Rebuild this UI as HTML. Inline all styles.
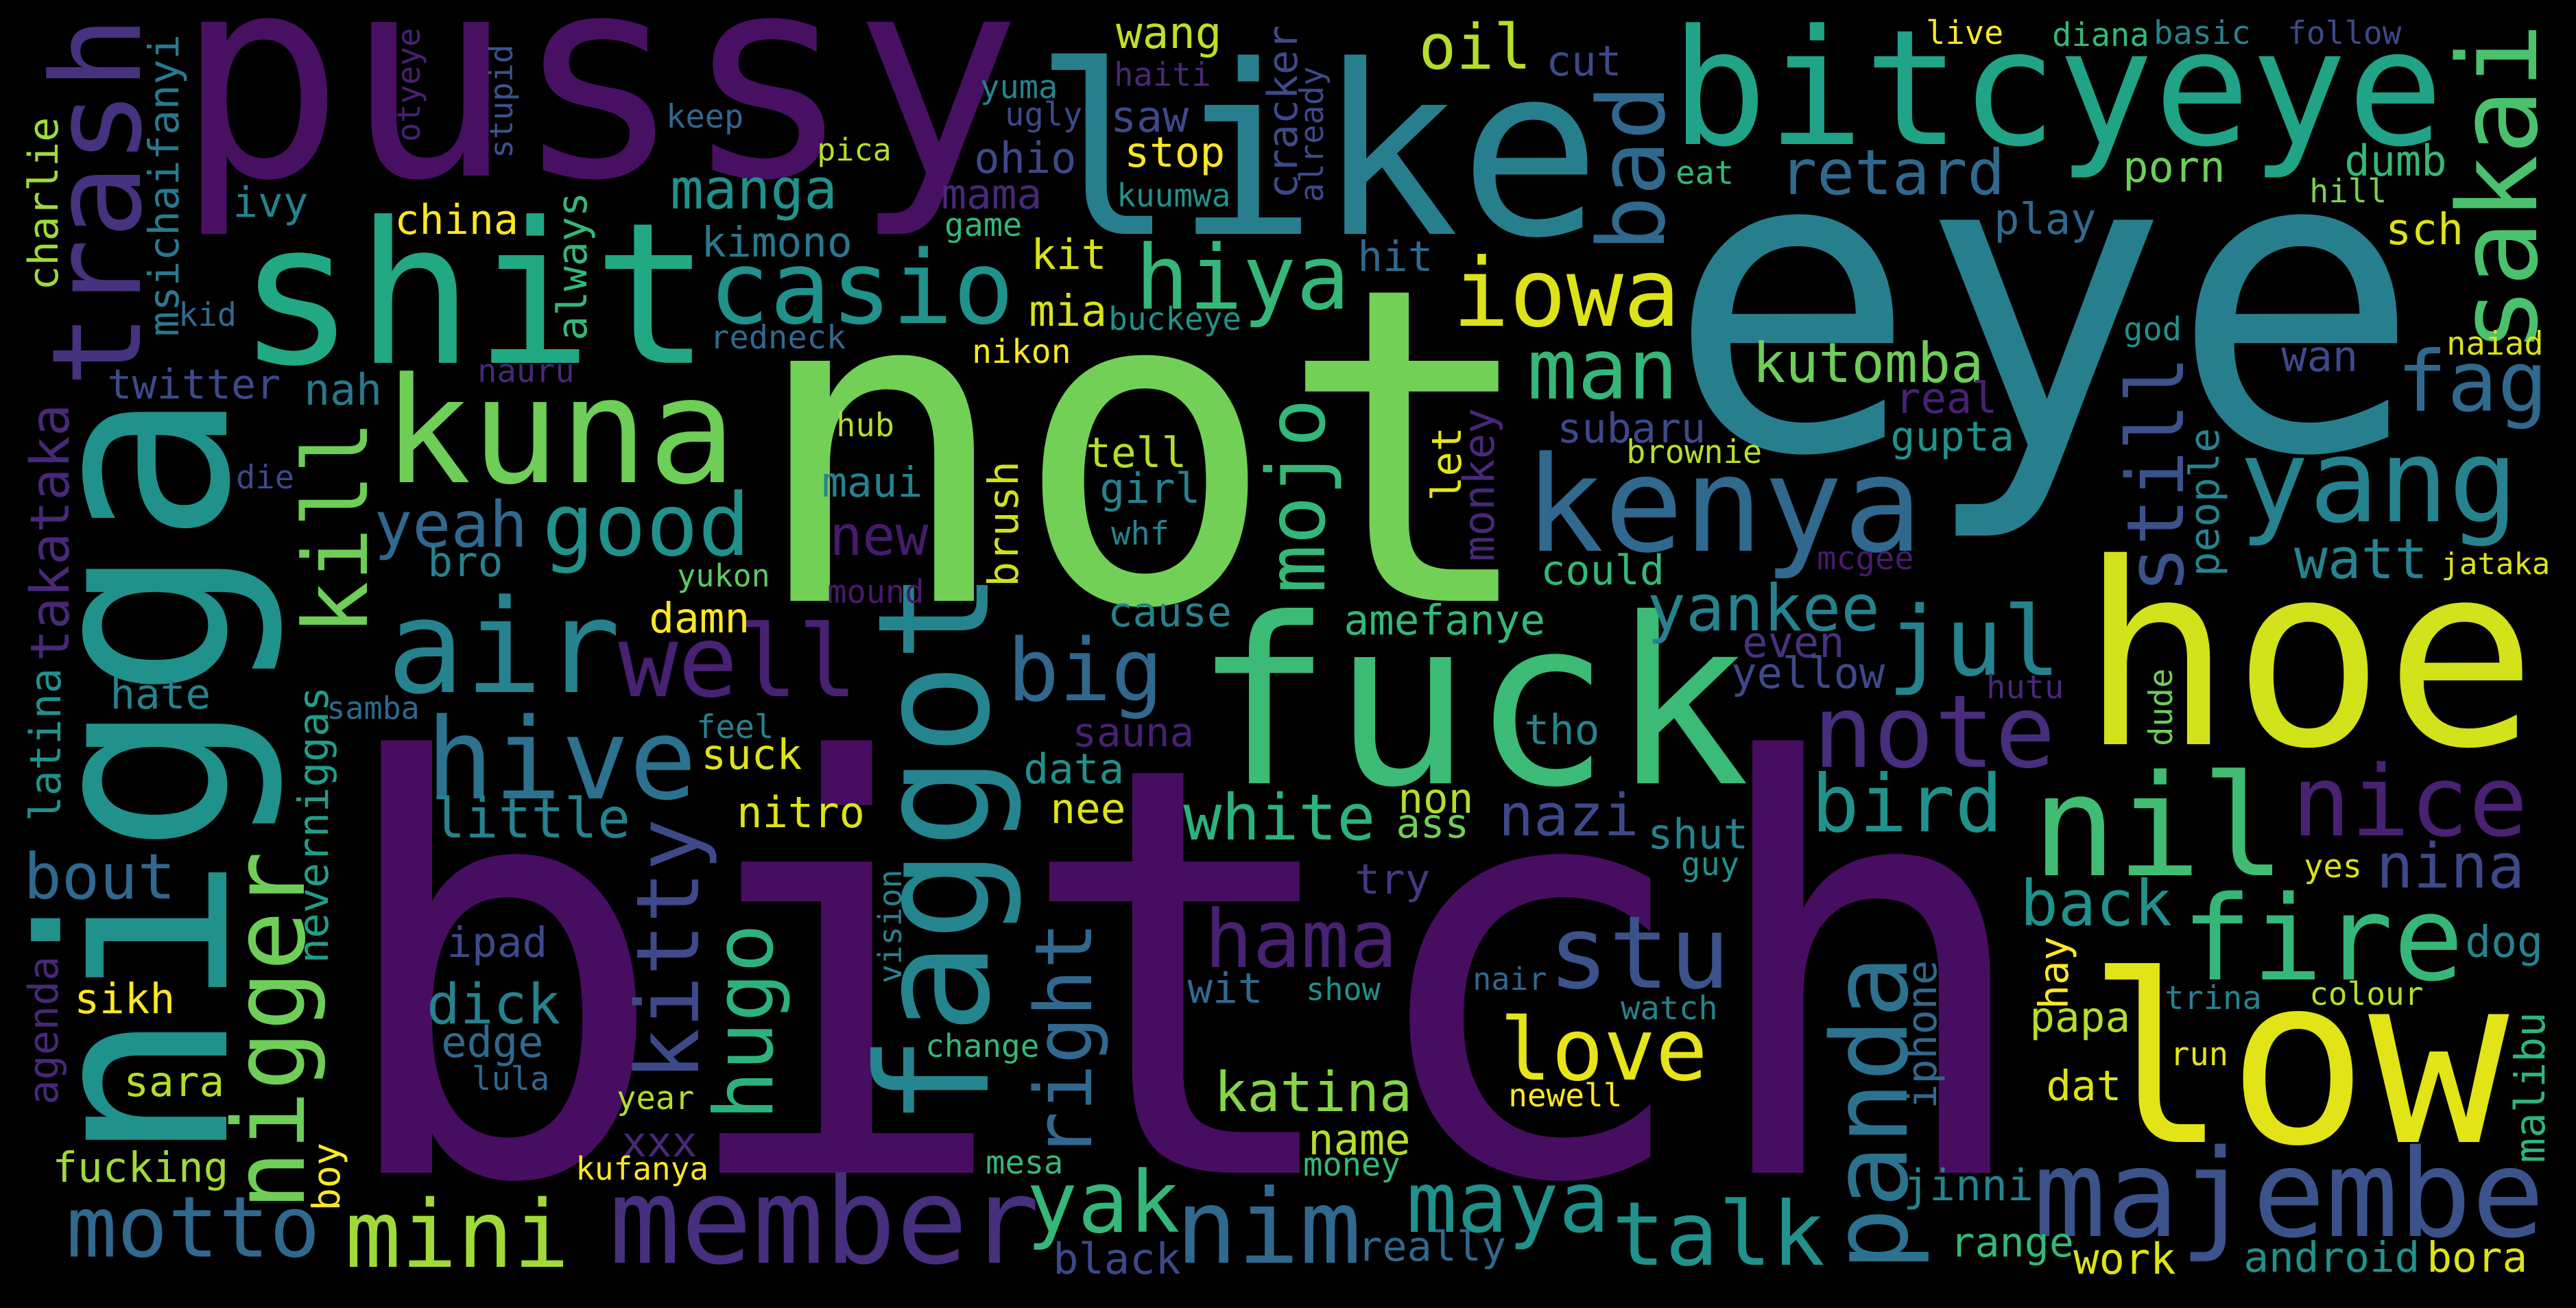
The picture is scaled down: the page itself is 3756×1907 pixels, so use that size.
<!DOCTYPE html>
<html><head><meta charset="utf-8"><title>Word cloud</title>
<style>
html,body{margin:0;padding:0;background:#000;}
#cloud{display:block;width:3756px;height:1907px;background:#000;}
#cloud text{font-family:"DejaVu Sans Mono","Liberation Mono",monospace;}
</style></head>
<body>
<svg id="cloud" xmlns="http://www.w3.org/2000/svg" width="3756" height="1907" viewBox="0 0 3756 1907">
<rect x="0" y="0" width="3756" height="1907" fill="#000"/>
<g id="words"></g>
</svg>
<script>
const words = [
"bitch","not","eye","pussy","like","fuck","hoe","low","nigga","shit", //1-10
"bitcyeye","kenya","kuna","faggot","air","majembe","nil","yang","fire","hive", //11-20
"member","panda","trash","nice","nigger","note","stu","well","mini","kill", //21-30
"sakai","hama","casio","hiya","iowa","kitty","yeah","good","love","fag", //31-40
"jul","big","talk","nim","maya","yak","mojo","man","bird","hugo", //41-50
"right","still","motto","white","back","bad","bout","nina","yankee","retard", //51-60
"manga","oil","kutomba","watt","dick","katina","little","nazi","new","wang", //61-70
"cut","live","diana","basic","follow","keep","yuma","ugly","haiti","saw", //71-80
"cracker","already","ohio","stop","mama","kuumwa","game","eat","kit","hit", //81-90
"mia","buckeye","nikon","hub","subaru","tell","girl","let","monkey","brush", //91-100
"whf","could","maui","mound","cause","amefanye","china","ivy","msichaifanyi","charlie", //101-110
"otyeye","stupid","pica","kimono","always","kid","redneck","twitter","nauru","nah", //111-120
"takataka","die","bro","yukon","damn","porn","dumb","hill","play","sch", //121-130
"god","naiad","wan","real","gupta","people","jataka","mcgee","brownie","even", //131-140
"yellow","hutu","dude","yes","dog","hay","iphone","trina","colour","papa", //141-150
"run","dat","malibu","jinni","range","work","android","bora","tho","sauna", //151-160
"data","nee","non","ass","shut","guy","try","vision","wit","show", //161-170
"nair","watch","change","newell","name","mesa","money","black","really","hate", //171-180
"latina","neverniggas","samba","feel","suck","nitro","agenda","sikh","ipad","edge", //181-190
"lula","sara","year","xxx","kufanya","fucking","boy"]; //191-197
const sizes = [
830,640,610,410,344,337,369,341,375,287,
234,193,214,225,189,177,205,169,171,164,
174,153,180,143,145,147,147,145,136,130,
160,117,148,130,138,127,93,126,126,122,
140,126,129,150,123,124,118,122,116,119,
115,115,123,93,92,135,92,90,94,91,
81,91,80,81,81,80,80,85,80,64,
61,47,47,47,46,47,47,47,47,63,
60,47,62,61,61,46,47,47,61,61,
63,46,48,47,60,61,61,60,62,61,
47,60,61,47,60,61,60,61,61,60,
46,46,45,61,60,47,47,60,47,63,
78,47,61,45,61,62,62,47,62,63,
47,47,62,62,60,60,44,47,47,62,
62,47,47,47,63,59,60,47,46,61,
47,61,61,63,60,62,61,61,61,59,
61,61,61,59,61,47,61,46,61,45,
45,47,46,46,62,47,47,62,60,61,
62,61,45,47,61,62,60,61,61,62,
47,61,47,61,46,61,55];
const colors = [
"#470d60","#73d056","#277f8e","#471063","#277f8e","#3bbb75","#d2e21b","#e2e418","#21918c","#22a884",
"#20a386","#31688e","#6ece58","#25858e","#26828e","#3b528b","#40bd72","#26828e","#35b779","#2c728e",
"#472f7d","#2c728e","#46327e","#482173","#6ece58","#472d7b","#3b528b","#482173","#9fda3a","#6ece58",
"#4ac16d","#482173","#21918c","#35b779","#dde318","#3e4989","#31688e","#21918c","#e7e419","#31688e",
"#26828e","#31688e","#21918c","#31688e","#21918c","#35b779","#35b779","#35b779","#21918c","#2db27d",
"#31688e","#3b528b","#31688e","#2db27d","#21918c","#31688e","#31688e","#3e4989","#26828e","#31688e",
"#21918c","#b5de2b","#6ece58","#26828e","#26828e","#86d549","#26828e","#3e4989","#481a6c","#c2df23",
"#3e4989","#fde725","#35b779","#26828e","#3e4989","#31688e","#26828e","#3e4989","#482878","#3e4989",
"#3e4989","#3e4989","#3e4989","#fde725","#482878","#21918c","#35b779","#35b779","#d8e219","#31688e",
"#d8e219","#21918c","#fde725","#b5de2b","#3e4989","#b5de2b","#26828e","#e5e419","#482878","#d0e11c",
"#26828e","#35b779","#26828e","#481a6c","#26828e","#35b779","#fde725","#26828e","#2a788e","#a0da39",
"#482173","#3b528b","#b5de2b","#2a788e","#35b779","#31688e","#31688e","#3e4989","#482878","#2a788e",
"#482878","#3e4989","#26828e","#5ec962","#fde725","#6ece58","#35b779","#7ad151","#31688e","#dde318",
"#21918c","#d8e219","#3e4989","#482173","#21918c","#26828e","#dde318","#481a6c","#b5de2b","#46337f",
"#3e4989","#482878","#6ece58","#d8e219","#26828e","#fde725","#31688e","#26828e","#b5de2b","#b5de2b",
"#e5e419","#dde318","#2fb47c","#26828e","#35b779","#dde318","#21918c","#dde318","#26828e","#482173",
"#21918c","#dde318","#b5de2b","#6ece58","#26828e","#21918c","#443983","#26828e","#31688e","#21918c",
"#31688e","#26828e","#35b779","#fde725","#b5de2b","#35b779","#35b779","#3e4989","#31688e","#26828e",
"#21918c","#1f9e89","#31688e","#26828e","#dde318","#dde318","#482878","#fde725","#3e4989","#31688e",
"#31688e","#b5de2b","#b5de2b","#482878","#fde725","#a0da39","#fde725"];
// layout from reference: [x, y, vertical]; horizontal: ink-left & baseline; vertical: baseline x & ink-bottom y
const layout = [
[527,1710,0],[1130,876,0],[2466,654,0],[280,256,0],[1527,341,0],[1760,1142,0],[3055,1085,0],[3063,1665,0],[330,1675,1],[363,529,0],
[2450,210,0],[2234,803,0],[571,703,0],[1440,1630,1],[575,1009,0],[2975,1802,0],[2975,1276,0],[3275,760,0],[3191,1428,0],[631,1164,0],
[898,1841,0],[2780,1844,1],[204,554,1],[3350,1218,0],[443,1756,1],[2652,1118,0],[2266,1440,0],[910,1015,0],[511,1847,0],[535,918,1],
[3698,505,1],[1763,1410,0],[1042,471,0],[1663,450,0],[2126,475,0],[1018,1568,1],[551,797,0],[798,809,0],[2194,1574,0],[3502,599,0],
[2760,984,0],[1476,1021,0],[2358,1844,0],[1723,1841,0],[2058,1796,0],[1504,1796,0],[1931,858,1],[2234,581,0],[2648,1212,0],[1126,1626,1],
[1591,1683,1],[3183,858,1],[104,1832,0],[1731,1224,0],[2951,1349,0],[2426,359,1],[40,1310,0],[3470,1294,0],[2407,919,0],[2600,283,0],
[982,304,0],[2074,100,0],[2560,557,0],[3350,843,0],[627,1492,0],[1775,1620,0],[635,1221,0],[2190,1218,0],[1214,809,0],[1631,70,0],
[2258,110,0],[2811,64,0],[2995,67,0],[3143,64,0],[3338,64,0],[974,186,0],[1432,143,0],[1468,183,0],[1627,125,0],[1623,192,0],
[1891,286,1],[1929,292,1],[1424,252,0],[1643,243,0],[1376,304,0],[1631,301,0],[1380,344,0],[2446,268,0],[1507,392,0],[1983,395,0],
[1504,475,0],[1619,481,0],[1420,529,0],[1222,636,0],[2274,645,0],[1587,681,0],[1607,733,0],[2130,727,1],[2178,815,1],[1484,852,1],
[1623,794,0],[2250,852,0],[1202,724,0],[1209,879,0],[1619,913,0],[1963,925,0],[579,341,0],[343,316,0],[260,487,1],[84,420,1],
[612,204,1],[747,228,1],[1194,234,0],[1026,374,0],[855,493,1],[263,475,0],[1038,508,0],[160,581,0],[699,557,0],[447,590,0],
[100,960,1],[347,712,0],[627,840,0],[990,855,0],[950,922,0],[3099,265,0],[3422,256,0],[3370,295,0],[2911,341,0],[3482,356,0],
[3099,496,0],[3570,517,0],[3330,541,0],[2767,602,0],[2760,657,0],[3235,837,1],[3562,837,0],[2652,830,0],[2374,675,0],[2544,958,0],
[2528,1003,0],[2899,1018,0],[3167,1085,1],[3362,1279,0],[3598,1395,0],[3015,1468,1],[2823,1613,1],[3159,1471,0],[3370,1465,0],[2963,1504,0],
[3167,1553,0],[2987,1604,0],[3710,1692,1],[2779,1750,0],[2847,1832,0],[3027,1857,0],[3275,1854,0],[3542,1854,0],[2226,1085,0],[1567,1088,0],
[1496,1142,0],[1535,1200,0],[2042,1185,0],[2039,1221,0],[2406,1237,0],[2454,1276,0],[1979,1303,0],[1314,1431,1],[1735,1462,0],[1907,1458,0],
[2150,1443,0],[2366,1486,0],[1352,1541,0],[2202,1613,0],[1911,1683,0],[1440,1711,0],[1903,1714,0],[1539,1857,0],[1983,1838,0],[164,1033,0],
[88,1194,1],[478,1401,1],[479,1048,0],[1018,1076,0],[1026,1121,0],[1078,1206,0],[84,1607,1],[112,1477,0],[655,1395,0],[647,1541,0],
[691,1589,0],[184,1598,0],[902,1617,0],[910,1686,0],[842,1720,0],[80,1723,0],[495,1762,1]];

const NS = "http://www.w3.org/2000/svg";
const g = document.getElementById('words');
for (let i = 0; i < words.length; i++) {
  const fs = sizes[i];
  const p = layout[i];
  const t = document.createElementNS(NS, 'text');
  
  
  t.setAttribute('font-size', fs);
  t.setAttribute('fill', colors[i]);
  const bear = fs * 0.06;
  if (p[2]) {
    t.setAttribute('transform', 'translate(' + p[0] + ',' + (p[1] + bear) + ') rotate(-90)');
    t.setAttribute('x', 0);
    t.setAttribute('y', 0);
  } else {
    t.setAttribute('x', p[0] - bear);
    t.setAttribute('y', p[1]);
  }
  t.textContent = words[i];
  g.appendChild(t);
}
</script>
</body></html>
